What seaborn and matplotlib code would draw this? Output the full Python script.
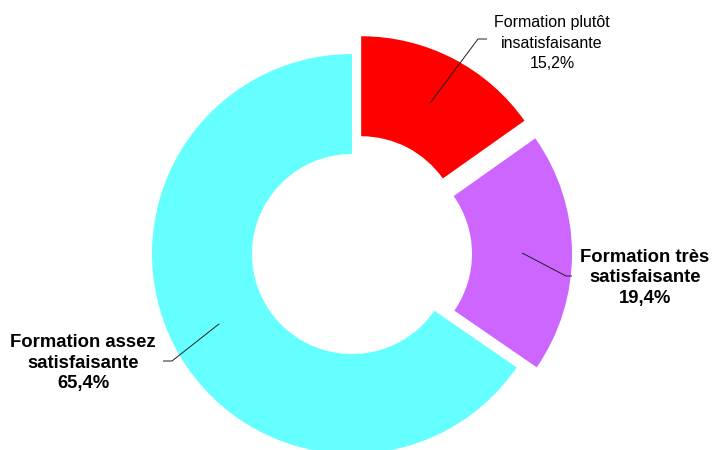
import numpy as np
import matplotlib
matplotlib.use("Agg")
import matplotlib.pyplot as plt
import seaborn as sns

# data
categories = ["Formation plutôt\ninsatisfaisante", "Formation très\nsatisfaisante", "Formation assez\nsatisfaisante"]
values = [15.2, 19.4, 65.4]
colors = ["#FF0000", "#CC66FF", "#66FFFF"]
explode = [0.1, 0.1, 0.0]
bold = [False, True, True]

# label layout (data units, pie radius = 1)
label_pos = [(1.0, 1.055), (1.465, -0.12), (-1.345, -0.545)]
elbow_pos = [(0.63, 1.075), (1.07, -0.11), (-0.90, -0.535)]
end_pos = [(0.675, 1.075), (1.10, -0.11), (-0.945, -0.535)]

sns.set_theme(style="white")
plt.rcParams['font.family'] = ['Liberation Sans', 'DejaVu Sans']

fig = plt.figure(figsize=(7.14, 4.5), dpi=100)
ax = fig.add_axes([0, 0, 1, 1])

wedges, _ = ax.pie(values, colors=colors, explode=explode, startangle=90,
                   counterclock=False, radius=1.0,
                   wedgeprops=dict(width=0.5, linewidth=0))

for i, w in enumerate(wedges):
    mid = np.deg2rad((w.theta1 + w.theta2) / 2)
    cx, cy = w.center
    sx, sy = cx + 0.75 * np.cos(mid), cy + 0.75 * np.sin(mid)
    ex, ey = elbow_pos[i]
    tx, ty = end_pos[i]
    ax.plot([sx, ex, tx], [sy, ey, ty], color="#202020", lw=0.7,
            solid_capstyle="butt")
    txt = categories[i] + "\n" + f"{values[i]:.1f}".replace(".", ",") + "%"
    if bold[i]:
        ax.text(label_pos[i][0], label_pos[i][1], txt, ha="center", va="center",
                fontsize=13.3, fontweight="bold", color="black", linespacing=1.3)
    else:
        ax.text(label_pos[i][0], label_pos[i][1], txt, ha="center", va="center",
                fontsize=11.5, color="black", linespacing=1.42)

ax.set_aspect("equal")
ax.set_xlim(-1.76, 1.81)
ax.set_ylim(-0.98, 1.27)
ax.axis("off")

fig.savefig("out.png", dpi=100)
